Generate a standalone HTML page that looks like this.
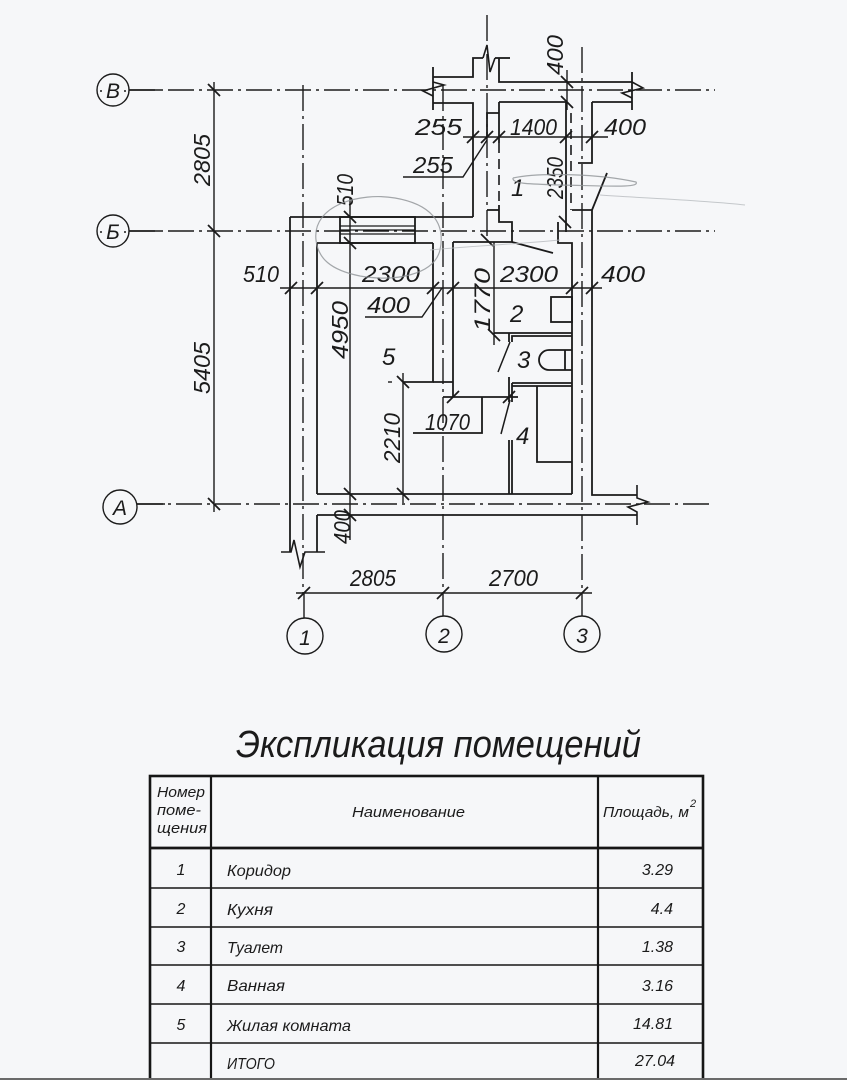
<!DOCTYPE html>
<html><head><meta charset="utf-8">
<style>
html,body{margin:0;padding:0;background:#f6f7f9;}
svg{display:block;}
text{font-family:"Liberation Sans","DejaVu Sans",sans-serif;font-style:italic;fill:#1b1b1b;}
</style></head>
<body>
<svg width="847" height="1080" viewBox="0 0 847 1080" xmlns="http://www.w3.org/2000/svg">
<rect x="0" y="0" width="847" height="1080" fill="#f6f7f9"/>

<!-- AXES (dash-dot) -->
<g stroke="#1b1b1b" stroke-width="1.4" fill="none" stroke-dasharray="26 5 3 5">
  <line x1="129" y1="90" x2="715" y2="90"/>
  <line x1="129" y1="231" x2="715" y2="231"/>
  <line x1="137" y1="504" x2="712" y2="504"/>
  <line x1="303" y1="85" x2="303" y2="593"/>
  <line x1="443" y1="85" x2="443" y2="593"/>
  <line x1="582" y1="47" x2="582" y2="593"/>
  <line x1="487" y1="15" x2="487" y2="240"/>
</g>
<g stroke="#1b1b1b" stroke-width="1.4" fill="none">
  <line x1="129" y1="90" x2="160" y2="90"/>
  <line x1="129" y1="231" x2="160" y2="231"/>
  <line x1="137" y1="504" x2="165" y2="504"/>
  <line x1="304" y1="593" x2="304" y2="618"/>
  <line x1="443" y1="593" x2="443" y2="616"/>
  <line x1="582" y1="593" x2="582" y2="616"/>
  <circle cx="113" cy="90" r="16"/>
  <circle cx="113" cy="231" r="16"/>
  <circle cx="120" cy="507" r="17"/>
  <circle cx="305" cy="636" r="18"/>
  <circle cx="444" cy="634" r="18"/>
  <circle cx="582" cy="634" r="18"/>
</g>
<g font-size="21" text-anchor="middle">
  <text x="113" y="98">В</text>
  <text x="113" y="239">Б</text>
  <text x="120" y="515">А</text>
  <text x="305" y="645">1</text>
  <text x="444" y="643">2</text>
  <text x="582" y="643">3</text>
</g>
<g fill="#1b1b1b">
  <circle cx="101" cy="91" r="1"/><circle cx="125" cy="91" r="1"/>
  <circle cx="101" cy="232" r="1"/><circle cx="125" cy="232" r="1"/>
</g>

<!-- WALLS -->
<g stroke="#1b1b1b" stroke-width="1.8" fill="none" stroke-linejoin="miter">
  <polyline points="433,67 433,110"/>
  <polyline points="433,77 473,77 473,58 483,58"/>
  <polyline points="433,103 473,103 473,217"/>
  <polyline points="495,58 510,58"/>
  <polyline points="499,58 499,82 632,82"/>
  <polyline points="632,72 632,110"/>
  <polyline points="499,102 566,102"/>
  <polyline points="592,102 632,102"/>
  <polyline points="487,137 487,113 499,113"/>
  <polyline points="487,210 499,210"/>
  <line x1="499" y1="102" x2="499" y2="143"/>
  <polyline points="499,205 499,222 512,222 512,242 453,242"/>
  <line x1="566" y1="102" x2="566" y2="232"/>
  <polyline points="592,102 592,163 578,163"/>
  <polyline points="572,210 592,210 592,495 637,495"/>
  <polyline points="558,222 558,243 572,243 572,494"/>
  <line x1="592" y1="210" x2="607" y2="173"/>
  <line x1="512" y1="242" x2="553" y2="253"/>
  <line x1="290" y1="217" x2="473" y2="217"/>
  <line x1="290" y1="217" x2="290" y2="552"/>
  <line x1="317" y1="243" x2="317" y2="494"/>
  <line x1="317" y1="243" x2="433" y2="243"/>
  <rect x="340" y="217" width="75" height="26"/>
  <line x1="340" y1="226" x2="415" y2="226" stroke-width="1.3"/>
  <line x1="340" y1="230" x2="415" y2="230" stroke-width="1.3"/>
  <line x1="340" y1="234" x2="415" y2="234" stroke-width="1.3"/>
  <polyline points="433,243 433,382 403,382"/>
  <polyline points="453,242 453,397"/>
  <line x1="433" y1="382" x2="453" y2="382"/>
  <line x1="317" y1="494" x2="572" y2="494"/>
  <line x1="317" y1="515" x2="637" y2="515"/>
  <line x1="317" y1="515" x2="317" y2="552"/>
  <rect x="551" y="297" width="21" height="25"/>
  <polyline points="494,333 572,333"/>
  <polyline points="512,342 512,336 572,336"/>
  <line x1="509" y1="333" x2="509" y2="342"/>
  <line x1="510" y1="342" x2="498" y2="372" stroke-width="1.5"/>
  <path d="M572,350 L549,350 A10,10 0 0 0 549,370 L572,370"/>
  <line x1="565" y1="350" x2="565" y2="370"/>
  <line x1="512" y1="383" x2="572" y2="383"/>
  <line x1="512" y1="386" x2="572" y2="386"/>
  <line x1="509" y1="377" x2="509" y2="402"/>
  <line x1="512" y1="383" x2="512" y2="402"/>
  <line x1="509" y1="440" x2="509" y2="494"/>
  <line x1="512" y1="440" x2="512" y2="494"/>
  <line x1="510" y1="400" x2="501" y2="434" stroke-width="1.5"/>
  <polyline points="537,386 537,462 572,462"/>
  <line x1="443" y1="397" x2="518" y2="397"/>
  <polyline points="413,433 482,433 482,397"/>
</g>
<g stroke="#1b1b1b" stroke-width="1.6" stroke-dasharray="10 6" fill="none">
  <line x1="499" y1="143" x2="499" y2="205"/>
  <line x1="571" y1="113" x2="571" y2="210"/>
</g>
<g stroke="#1b1b1b" stroke-width="1.6" fill="none">
  <polyline points="483,58 487,45 490,72 495,58"/>
  <polyline points="433,82 444,85 423,91 433,96"/>
  <polyline points="632,82 643,88 622,93 632,98"/>
  <polyline points="637,485 637,498 648,502 628,507 637,512 637,525"/>
  <polyline points="281,552 291,552 294,540 300,567 305,552 325,552"/>
</g>

<!-- DIMENSION LINES -->
<g stroke="#1b1b1b" stroke-width="1.4" fill="none">
  <line x1="214" y1="82" x2="214" y2="512"/>
  <line x1="280" y1="288" x2="602" y2="288"/>
  <line x1="463" y1="137" x2="608" y2="137"/>
  <polyline points="403,177 463,177 487,140"/>
  <polyline points="365,317 422,317 442,288"/>
  <line x1="350" y1="198" x2="350" y2="540"/>
  <line x1="403" y1="373" x2="403" y2="503"/>
  <line x1="388" y1="382" x2="392" y2="382"/>
  <line x1="494" y1="242" x2="494" y2="345"/>
  <line x1="567" y1="70" x2="567" y2="110"/>
  <line x1="296" y1="593" x2="592" y2="593"/>
</g>
<g stroke="#1b1b1b" stroke-width="1.8">
  <line x1="208" y1="84" x2="220" y2="96"/>
  <line x1="208" y1="225" x2="220" y2="237"/>
  <line x1="208" y1="498" x2="220" y2="510"/>
  <line x1="285" y1="294" x2="297" y2="282"/>
  <line x1="311" y1="294" x2="323" y2="282"/>
  <line x1="427" y1="294" x2="439" y2="282"/>
  <line x1="447" y1="294" x2="459" y2="282"/>
  <line x1="566" y1="294" x2="578" y2="282"/>
  <line x1="586" y1="294" x2="598" y2="282"/>
  <line x1="467" y1="143" x2="479" y2="131"/>
  <line x1="481" y1="143" x2="493" y2="131"/>
  <line x1="493" y1="143" x2="505" y2="131"/>
  <line x1="560" y1="143" x2="572" y2="131"/>
  <line x1="586" y1="143" x2="598" y2="131"/>
  <line x1="344" y1="211" x2="356" y2="223"/>
  <line x1="344" y1="237" x2="356" y2="249"/>
  <line x1="344" y1="488" x2="356" y2="500"/>
  <line x1="344" y1="509" x2="356" y2="521"/>
  <line x1="397" y1="376" x2="409" y2="388"/>
  <line x1="397" y1="488" x2="409" y2="500"/>
  <line x1="488" y1="329" x2="500" y2="341"/>
  <line x1="481" y1="234" x2="493" y2="246"/>
  <line x1="561" y1="76" x2="573" y2="88"/>
  <line x1="561" y1="96" x2="573" y2="108"/>
  <line x1="559" y1="216" x2="571" y2="228"/>
  <line x1="447" y1="403" x2="459" y2="391"/>
  <line x1="503" y1="403" x2="515" y2="391"/>
  <line x1="298" y1="599" x2="310" y2="587"/>
  <line x1="437" y1="599" x2="449" y2="587"/>
  <line x1="576" y1="599" x2="588" y2="587"/>
</g>

<!-- DIMENSION TEXT -->
<g font-size="23">
  <text x="243" y="282" textLength="36" lengthAdjust="spacingAndGlyphs">510</text>
  <text x="362" y="282" textLength="58" lengthAdjust="spacingAndGlyphs">2300</text>
  <text x="500" y="282" textLength="58" lengthAdjust="spacingAndGlyphs">2300</text>
  <text x="601" y="282" textLength="44" lengthAdjust="spacingAndGlyphs">400</text>
  <text x="367" y="313" textLength="43" lengthAdjust="spacingAndGlyphs">400</text>
  <text x="415" y="135" textLength="47" lengthAdjust="spacingAndGlyphs">255</text>
  <text x="510" y="135" textLength="47" lengthAdjust="spacingAndGlyphs">1400</text>
  <text x="604" y="135" textLength="42" lengthAdjust="spacingAndGlyphs">400</text>
  <text x="413" y="173" textLength="40" lengthAdjust="spacingAndGlyphs">255</text>
  <text x="425" y="430" textLength="45" lengthAdjust="spacingAndGlyphs">1070</text>
  <text x="350" y="586" textLength="46" lengthAdjust="spacingAndGlyphs">2805</text>
  <text x="489" y="586" textLength="49" lengthAdjust="spacingAndGlyphs">2700</text>
  <text transform="translate(210,160) rotate(-90)" text-anchor="middle" textLength="52" lengthAdjust="spacingAndGlyphs">2805</text>
  <text transform="translate(210,368) rotate(-90)" text-anchor="middle" textLength="52" lengthAdjust="spacingAndGlyphs">5405</text>
  <text transform="translate(353,190) rotate(-90)" text-anchor="middle" textLength="32" lengthAdjust="spacingAndGlyphs">510</text>
  <text transform="translate(348,330) rotate(-90)" text-anchor="middle" textLength="58" lengthAdjust="spacingAndGlyphs">4950</text>
  <text transform="translate(350,527) rotate(-90)" text-anchor="middle" textLength="34" lengthAdjust="spacingAndGlyphs">400</text>
  <text transform="translate(400,438) rotate(-90)" text-anchor="middle" textLength="50" lengthAdjust="spacingAndGlyphs">2210</text>
  <text transform="translate(490,300) rotate(-90)" text-anchor="middle" font-size="22" textLength="64" lengthAdjust="spacingAndGlyphs">1770</text>
  <text transform="translate(563,178) rotate(-90)" text-anchor="middle" textLength="42" lengthAdjust="spacingAndGlyphs">2350</text>
  <text transform="translate(563,55) rotate(-90)" text-anchor="middle" textLength="40" lengthAdjust="spacingAndGlyphs">400</text>
</g>
<g font-size="24">
  <text x="511" y="196">1</text>
  <text x="510" y="322">2</text>
  <text x="517" y="368">3</text>
  <text x="516" y="444">4</text>
  <text x="382" y="365">5</text>
</g>

<!-- pencil marks -->
<g stroke="#8f9296" stroke-width="1.2" fill="none" opacity="0.8">
  <path d="M316,240 C312,205 360,192 395,198 C430,204 446,222 440,250 C434,275 395,282 360,276 C330,270 318,258 316,240 Z"/>
  <path d="M513,178 C540,172 600,174 636,182 C640,188 610,186 560,185 C530,184 512,184 513,178"/>
</g>
<g stroke="#b8bbbf" stroke-width="1" fill="none" opacity="0.8">
  <path d="M600,195 C640,198 700,200 745,205"/>
  <path d="M430,250 C470,246 520,244 560,240"/>
</g>

<!-- TITLE -->
<text x="236" y="757" font-size="38" textLength="405" lengthAdjust="spacingAndGlyphs">Экспликация помещений</text>

<!-- TABLE -->
<g stroke="#161616" fill="none">
  <rect x="150" y="776" width="553" height="310" stroke-width="2.6"/>
  <line x1="211" y1="776" x2="211" y2="1080" stroke-width="2.2"/>
  <line x1="598" y1="776" x2="598" y2="1080" stroke-width="2.2"/>
  <line x1="150" y1="848" x2="703" y2="848" stroke-width="2.8"/>
  <line x1="150" y1="888" x2="703" y2="888" stroke-width="1.4"/>
  <line x1="150" y1="927" x2="703" y2="927" stroke-width="1.4"/>
  <line x1="150" y1="965" x2="703" y2="965" stroke-width="1.4"/>
  <line x1="150" y1="1004" x2="703" y2="1004" stroke-width="1.4"/>
  <line x1="150" y1="1043" x2="703" y2="1043" stroke-width="1.4"/>
</g>
<line x1="0" y1="1079" x2="847" y2="1079" stroke="#6a6a6a" stroke-width="2"/>
<g font-size="15">
  <text x="157" y="797" textLength="48" lengthAdjust="spacingAndGlyphs">Номер</text>
  <text x="157" y="815" textLength="44" lengthAdjust="spacingAndGlyphs">поме-</text>
  <text x="157" y="833" textLength="50" lengthAdjust="spacingAndGlyphs">щения</text>
  <text x="352" y="817" textLength="113" lengthAdjust="spacingAndGlyphs">Наименование</text>
  <text x="603" y="817" textLength="86" lengthAdjust="spacingAndGlyphs">Площадь, м</text>
  <text x="690" y="807" font-size="11">2</text>
</g>
<g font-size="16">
  <text x="181" y="875" text-anchor="middle">1</text>
  <text x="181" y="914" text-anchor="middle">2</text>
  <text x="181" y="952" text-anchor="middle">3</text>
  <text x="181" y="991" text-anchor="middle">4</text>
  <text x="181" y="1030" text-anchor="middle">5</text>
  <text x="227" y="876" textLength="64" lengthAdjust="spacingAndGlyphs">Коридор</text>
  <text x="227" y="915" textLength="46" lengthAdjust="spacingAndGlyphs">Кухня</text>
  <text x="227" y="953" textLength="56" lengthAdjust="spacingAndGlyphs">Туалет</text>
  <text x="227" y="991" textLength="58" lengthAdjust="spacingAndGlyphs">Ванная</text>
  <text x="227" y="1031" textLength="124" lengthAdjust="spacingAndGlyphs">Жилая комната</text>
  <text x="227" y="1069" textLength="48" lengthAdjust="spacingAndGlyphs">ИТОГО</text>
  <text x="673" y="875" text-anchor="end">3.29</text>
  <text x="673" y="914" text-anchor="end">4.4</text>
  <text x="673" y="952" text-anchor="end">1.38</text>
  <text x="673" y="991" text-anchor="end">3.16</text>
  <text x="673" y="1029" text-anchor="end">14.81</text>
  <text x="675" y="1066" text-anchor="end">27.04</text>
</g>
</svg>
</body></html>
